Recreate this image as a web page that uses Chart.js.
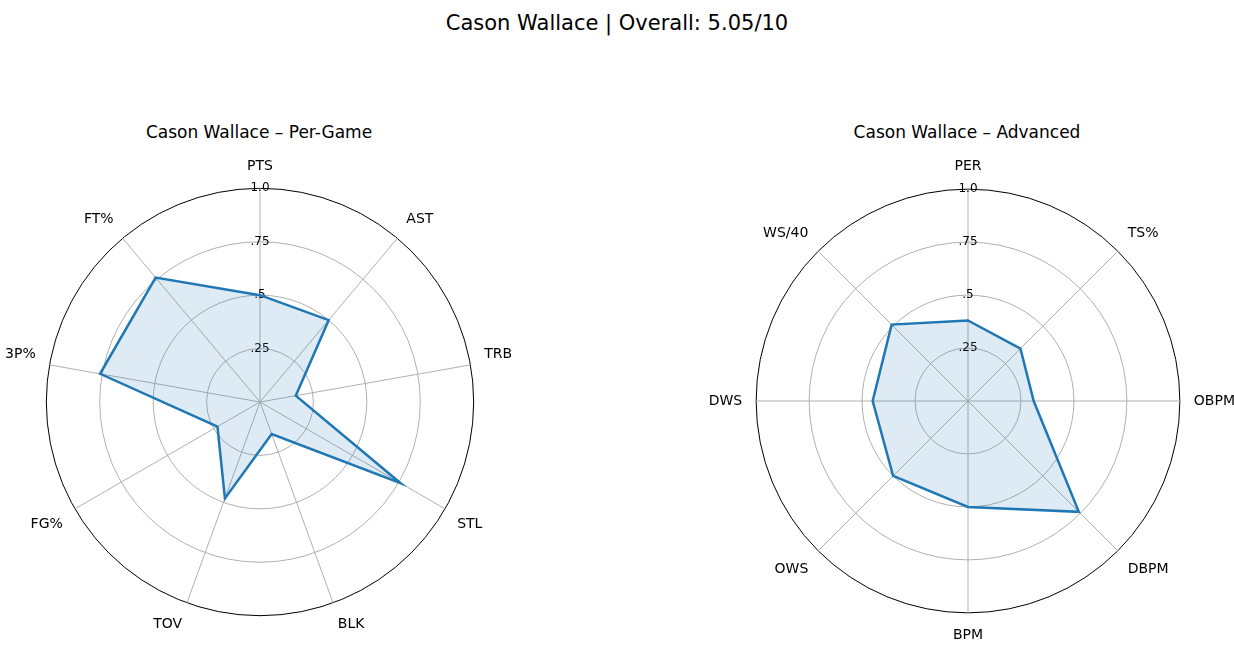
<!DOCTYPE html>
<html>
<head>
<meta charset="utf-8">
<script src="https://cdn.jsdelivr.net/npm/chart.js@4"></script>
<style>
  body { margin: 0; background: #fff; font-family: "DejaVu Sans", sans-serif; }
  #wrap { position: relative; width: 1234px; height: 653px; }
  .t { position: absolute; text-align: center; color: #000; }
  .box { position: absolute; }
</style>
</head>
<body>
<div id="wrap">
  <div class="t" style="left:0;width:1234px;top:11px;font-size:21px;">Cason Wallace | Overall: 5.05/10</div>
  <div class="t" style="left:9px;width:500px;top:122px;font-size:17px;">Cason Wallace – Per-Game</div>
  <div class="t" style="left:717px;width:500px;top:122px;font-size:17px;">Cason Wallace – Advanced</div>
  <div class="box" style="left:4px;top:140px;width:510px;height:510px;"><canvas id="perGame"></canvas></div>
  <div class="box" style="left:705px;top:134px;width:534px;height:534px;"><canvas id="advanced"></canvas></div>
</div>
<script>
// Per-game stats (percentile, 0..1)
const perGameLabels = ['PTS', 'AST', 'TRB', 'STL', 'BLK', 'TOV', 'FG%', '3P%', 'FT%'];
const perGameValues = [0.50, 0.50, 0.17, 0.76, 0.16, 0.48, 0.23, 0.76, 0.76];

// Advanced stats
const advancedLabels = ['PER', 'TS%', 'OBPM', 'DBPM', 'BPM', 'OWS', 'DWS', 'WS/40'];
const advancedValues = [0.38, 0.35, 0.31, 0.74, 0.50, 0.50, 0.45, 0.51];

const tickText = { 0.25: '.25', 0.5: '.5', 0.75: '.75', 1: '1.0' };

function makeRadar(id, labels, values) {
    new Chart(document.getElementById(id), {
        type: 'radar',
        data: {
            labels: labels,
            datasets: [{
                data: values,
                borderColor: '#1f77b4',
                backgroundColor: 'rgba(31,119,180,0.15)',
                borderWidth: 2.5,
                pointRadius: 0,
                fill: true
            }]
        },
        options: {
            responsive: true,
            maintainAspectRatio: false,
            animation: false,
            layout: { padding: 0 },
            plugins: { legend: { display: false }, tooltip: { enabled: false } },
            scales: {
                r: {
                    min: 0, max: 1,
                    ticks: {
                        stepSize: 0.25,
                        color: '#000',
                        font: { size: 12, family: 'DejaVu Sans' },
                        showLabelBackdrop: false,
                        callback: v => tickText[v] || ''
                    },
                    grid: {
                        circular: true,
                        color: c => c.tick && c.tick.value === 1 ? '#000' : '#b0b0b0',
                        lineWidth: 1
                    },
                    angleLines: { color: '#b0b0b0' },
                    pointLabels: {
                        color: '#000',
                        padding: 6,
                        font: { size: 14, family: 'DejaVu Sans' }
                    }
                }
            }
        }
    });
}

makeRadar('perGame', perGameLabels, perGameValues);
makeRadar('advanced', advancedLabels, advancedValues);
</script>
</body>
</html>
